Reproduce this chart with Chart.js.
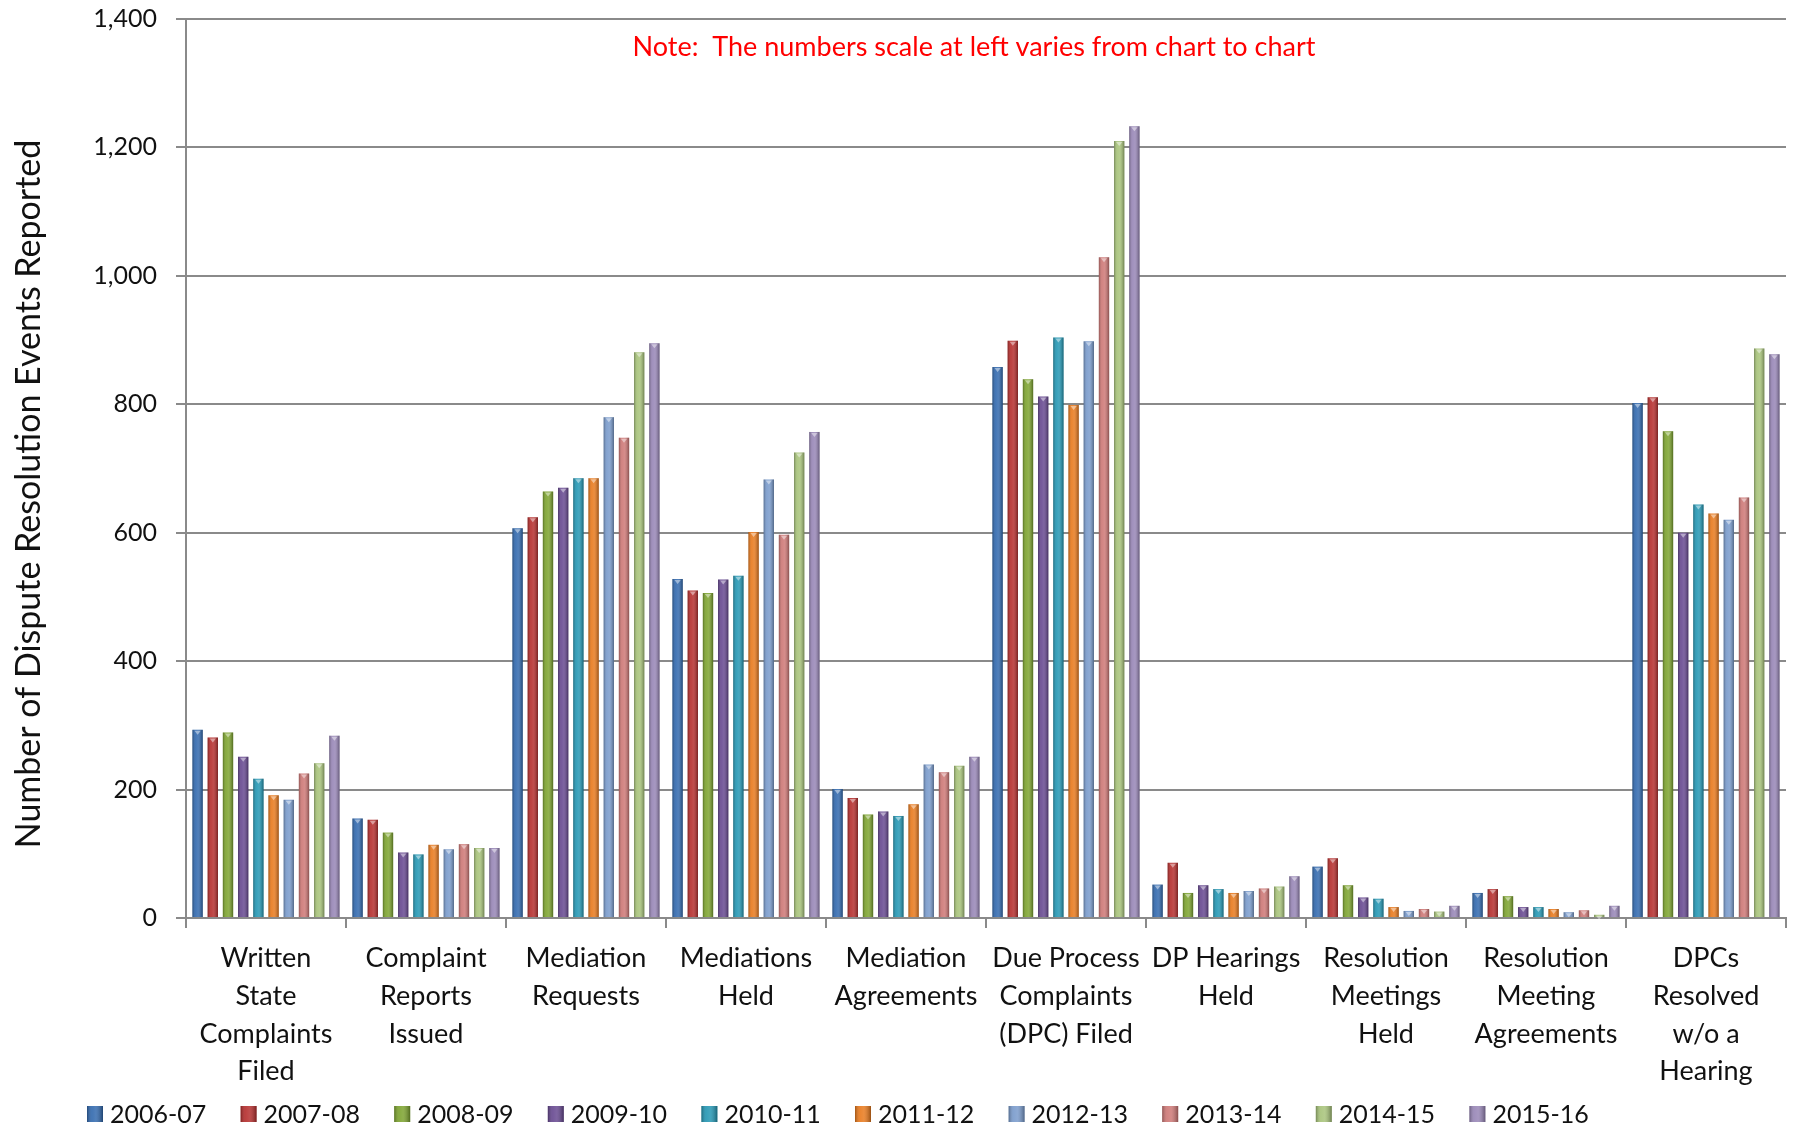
<!DOCTYPE html>
<html lang="en">
<head>
  <meta charset="UTF-8" />
  <title>Dispute Resolution Events</title>
  <style>
    html, body { margin: 0; padding: 0; background: #fff; }
    .chart-wrapper { width: 1797px; height: 1129px; }
  </style>
</head>
<body>
  <div class="chart-wrapper"><canvas id="myChart"></canvas></div>
  <script src="https://cdn.jsdelivr.net/npm/chart.js"></script>
  <script>
    const categories = [
      ['Written', 'State', 'Complaints', 'Filed'],
      ['Complaint', 'Reports', 'Issued'],
      ['Mediation', 'Requests'],
      ['Mediations', 'Held'],
      ['Mediation', 'Agreements'],
      ['Due Process', 'Complaints', '(DPC) Filed'],
      ['DP Hearings', 'Held'],
      ['Resolution', 'Meetings', 'Held'],
      ['Resolution', 'Meeting', 'Agreements'],
      ['DPCs', 'Resolved', 'w/o a', 'Hearing']
    ];
    const years = ['2006-07', '2007-08', '2008-09', '2009-10', '2010-11',
                   '2011-12', '2012-13', '2013-14', '2014-15', '2015-16'];

    const y2006 = [293, 155, 607, 528, 201, 858, 52, 80, 39, 802];
    const y2007 = [281, 153, 624, 510, 187, 899, 86, 93, 45, 811];
    const y2008 = [289, 133, 664, 506, 161, 839, 39, 51, 34, 758];
    const y2009 = [251, 102, 670, 527, 166, 812, 51, 32, 17, 600];
    const y2010 = [217, 99, 685, 533, 159, 904, 45, 30, 17, 644];
    const y2011 = [191, 114, 685, 601, 177, 799, 39, 17, 14, 630];
    const y2012 = [184, 107, 780, 683, 239, 898, 42, 11, 9, 620];
    const y2013 = [225, 115, 748, 597, 227, 1029, 46, 14, 12, 655];
    const y2014 = [241, 109, 881, 725, 237, 1210, 49, 10, 5, 887];
    const y2015 = [284, 109, 895, 757, 251, 1233, 65, 19, 19, 878];
    const yTicks = [0, 200, 400, 600, 800, 1000, 1200, 1400];

    const series = [y2006, y2007, y2008, y2009, y2010, y2011, y2012, y2013, y2014, y2015];
    const colors = ['#2f67ad', '#b42b2a', '#7ba22c', '#65468f', '#2195b2',
                    '#e8781a', '#7799cb', '#cd7674', '#a6c278', '#9684b5'];

    const font = 'Lato, "Open Sans", sans-serif';
    const gray = '#8a8a8a';

    function shade(ctx, l, t, w, h) {
      const g = ctx.createLinearGradient(l, 0, l + w, 0);
      g.addColorStop(0, 'rgba(0,0,0,0.30)');
      g.addColorStop(0.3, 'rgba(255,255,255,0.10)');
      g.addColorStop(0.55, 'rgba(255,255,255,0.16)');
      g.addColorStop(1, 'rgba(0,0,0,0.34)');
      ctx.fillStyle = g;
      ctx.fillRect(l, t, w, h);
    }

    // shading so the bars look a bit like the excel cylinders
    const barShade = {
      id: 'barShade',
      afterDatasetsDraw(chart) {
        const ctx = chart.ctx;
        chart.data.datasets.forEach((ds, i) => {
          const meta = chart.getDatasetMeta(i);
          meta.data.forEach(bar => {
            const p = bar.getProps(['x', 'y', 'base', 'width'], true);
            const l = p.x - p.width / 2;
            ctx.save();
            shade(ctx, l, p.y, p.width, p.base - p.y);
            ctx.fillStyle = 'rgba(255,255,255,0.45)';
            ctx.beginPath();
            ctx.moveTo(l + 2, p.y + 1);
            ctx.lineTo(l + p.width - 2, p.y + 1);
            ctx.lineTo(p.x, p.y + 5);
            ctx.closePath();
            ctx.fill();
            ctx.restore();
          });
        });
      }
    };

    // legend row along the bottom, built from the datasets
    const bottomLegend = {
      id: 'bottomLegend',
      afterDraw(chart) {
        const ctx = chart.ctx;
        ctx.save();
        ctx.font = '25px ' + font;
        ctx.textBaseline = 'middle';
        ctx.textAlign = 'left';
        chart.data.datasets.forEach((ds, i) => {
          const x = 87 + i * 153.6;
          const y = 1114;
          ctx.fillStyle = ds.backgroundColor;
          ctx.fillRect(x, y - 8, 16, 16);
          shade(ctx, x, y - 8, 16, 16);
          ctx.fillStyle = '#111';
          ctx.fillText(ds.label, x + 23, y + 1);
        });
        ctx.restore();
      }
    };

    // red note at the top and the rotated y-axis title
    const texts = {
      id: 'texts',
      afterDraw(chart) {
        const ctx = chart.ctx;
        ctx.save();
        ctx.fillStyle = '#ff0000';
        ctx.font = '27px ' + font;
        ctx.textAlign = 'center';
        ctx.textBaseline = 'middle';
        ctx.fillText('Note:  The numbers scale at left varies from chart to chart', 974, 47);
        ctx.translate(29, 494);
        ctx.rotate(-Math.PI / 2);
        ctx.fillStyle = '#111';
        ctx.font = '34px ' + font;
        ctx.fillText('Number of Dispute Resolution Events Reported', 0, 0);
        ctx.restore();
      }
    };

    const ctx = document.getElementById('myChart').getContext('2d');
    new Chart(ctx, {
      type: 'bar',
      data: {
        labels: categories,
        datasets: series.map((d, i) => ({
          label: years[i],
          data: d,
          backgroundColor: colors[i],
          borderWidth: 0
        }))
      },
      options: {
        responsive: true,
        maintainAspectRatio: false,
        animation: false,
        categoryPercentage: 0.95,
        barPercentage: 0.68,
        layout: { padding: { top: 19, right: 11, left: 0, bottom: 0 } },
        plugins: {
          legend: { display: false },
          tooltip: { enabled: false }
        },
        scales: {
          x: {
            grid: { display: true, drawOnChartArea: false, color: gray, lineWidth: 2, tickLength: 10 },
            border: { color: gray, width: 2 },
            ticks: {
              font: { family: font, size: 27, lineHeight: 1.39 },
              color: '#111',
              padding: 12,
              maxRotation: 0,
              autoSkip: false
            },
            afterFit: s => { s.height = 211; s.paddingLeft = 0; s.paddingRight = 0; }
          },
          y: {
            min: 0,
            max: 1400,
            afterBuildTicks: s => { s.ticks = yTicks.map(v => ({ value: v })); },
            grid: { color: gray, lineWidth: 2, tickLength: 10 },
            border: { color: gray, width: 2 },
            ticks: {
              font: { family: font, size: 25 },
              color: '#111',
              padding: 19,
              callback: v => v.toLocaleString('en-US')
            },
            afterFit: s => { s.width = 186; s.paddingTop = 0; s.paddingBottom = 0; }
          }
        }
      },
      plugins: [barShade, bottomLegend, texts]
    });
  </script>
</body>
</html>
